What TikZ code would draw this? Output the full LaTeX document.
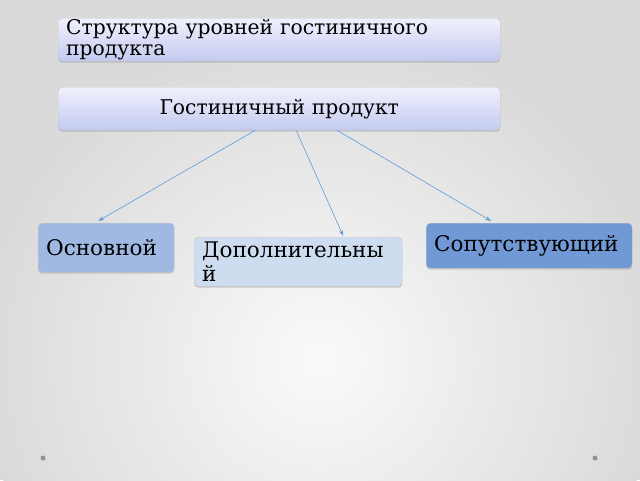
\documentclass[tikz,border=0pt]{standalone}
\usepackage{fontspec}
\setmainfont{DejaVu Serif}
\usetikzlibrary{arrows.meta}
\usetikzlibrary{shadows}

\definecolor{bgedge}{RGB}{218,218,218}
\definecolor{bgmid}{RGB}{250,250,250}
\definecolor{lavtop}{RGB}{240,241,253}
\definecolor{lavbot}{RGB}{196,202,240}
\definecolor{osncol}{RGB}{160,185,226}
\definecolor{dopcol}{RGB}{206,220,240}
\definecolor{sopcol}{RGB}{113,153,214}
\definecolor{arrcol}{RGB}{95,155,215}

\tikzset{
  levelbox/.style={rectangle, rounded corners=4pt, anchor=north west,
    draw=gray!45, line width=0.4pt, inner xsep=8pt, inner ysep=0pt,
    align=left, font=\fontsize{21.5}{23.5}\selectfont,
    drop shadow={shadow xshift=0pt, shadow yshift=-1.5pt, opacity=0.35}},
  headbox/.style={levelbox, top color=lavtop, bottom color=lavbot,
    font=\fontsize{20.3}{21.5}\selectfont},
  link/.style={arrcol, line width=0.6pt, -{Stealth[length=6pt,width=4pt]}}
}

\begin{document}
\begin{tikzpicture}[x=1pt,y=-1pt]
      % Background
      \useasboundingbox (0,0) rectangle (640,480);
      \begin{scope}
        \clip (0,0) rectangle (640,480);
        \fill [bgedge] (0,0) rectangle (640,480);
        \shade [inner color=bgmid, outer color=bgedge] (320,360) ellipse [x radius=340, y radius=330];
      \end{scope}

      % Headings
      \node [headbox, text width=426pt, minimum height=43pt] (title) at (58,18)
        {Структура уровней гостиничного\\продукта};
      \node [headbox, text width=426pt, minimum height=43pt, align=center] (prod) at (58,87)
        {Гостиничный продукт};

      % Levels
      \node [levelbox, fill=osncol, text width=120pt, minimum height=49pt] (osn) at (38,223)
        {Основной};
      \node [levelbox, fill=dopcol, text width=192pt, minimum height=49pt] (dop) at (194,237)
        {Дополнительны\\й};
      \node [levelbox, fill=sopcol, text width=190pt, minimum height=45pt] (sop) at (426,223)
        {Сопутствующий};

      % Edges
      \draw [link] ([xshift=-24pt]prod.south) to ([xshift=-8pt,yshift=2pt]osn.north);
      \draw [link] ([xshift=17pt]prod.south) to ([xshift=45pt,yshift=1pt]dop.north);
      \draw [link] ([xshift=58pt]prod.south) to ([xshift=-38pt,yshift=2pt]sop.north);

      % Dots
      \fill [gray!85] (43,458) circle [radius=2.5];
      \fill [gray!85] (595,458) circle [radius=2.5];
\end{tikzpicture}
\end{document}
